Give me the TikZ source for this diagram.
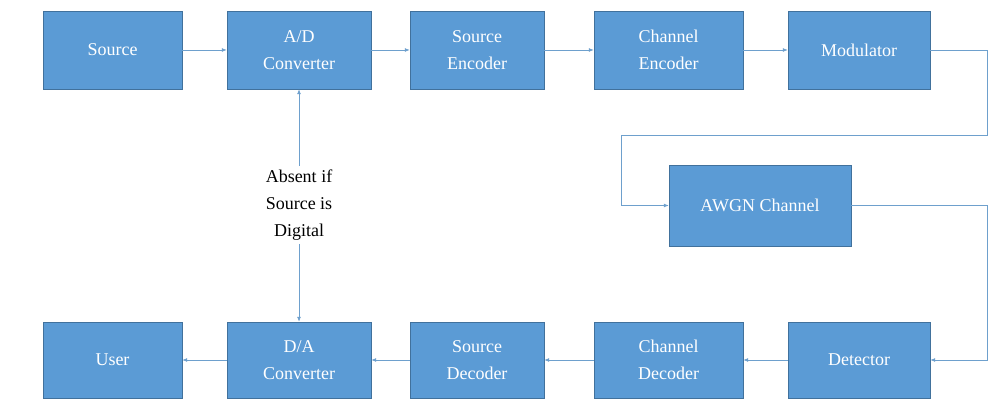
\documentclass[tikz,border=0pt]{standalone}
\usepackage{fontspec}
\setmainfont{Liberation Serif}
\usetikzlibrary{arrows.meta}
\definecolor{boxblue}{RGB}{91,155,213}
\definecolor{boxedge}{RGB}{65,113,156}
\definecolor{wireblue}{RGB}{110,160,205}
\begin{document}
\begin{tikzpicture}[x=1pt, y=-1pt]
\tikzset{ block/.style={draw=boxedge, fill=boxblue, text=white, align=center,
    inner sep=0pt, font={\fontsize{18pt}{27pt}\selectfont}},
  wire/.style={draw=wireblue, thick, -{Latex[length=5pt,width=4pt]}}
}
\useasboundingbox (0,0) rectangle (1006,409);

% Transmitter
\node[block, minimum width=139pt, minimum height=78pt] (src) at (112.5,50) {Source};
\node[block, minimum width=144pt, minimum height=78pt] (adc) at (299,50) {A/D\\Converter};
\node[block, minimum width=134pt, minimum height=78pt] (senc) at (477,50) {Source\\Encoder};
\node[block, minimum width=149pt, minimum height=78pt] (cenc) at (668.5,50) {Channel\\Encoder};
\node[block, minimum width=142pt, minimum height=78pt] (mod) at (859,50) {Modulator};

% Channel
\node[block, minimum width=182pt, minimum height=81pt] (awgn) at (760,205.5) {AWGN Channel};

% Receiver
\node[block, minimum width=139pt, minimum height=76pt] (user) at (112.5,360) {User};
\node[block, minimum width=144pt, minimum height=76pt] (dac) at (299,360) {D/A\\Converter};
\node[block, minimum width=134pt, minimum height=76pt] (sdec) at (477,360) {Source\\Decoder};
\node[block, minimum width=149pt, minimum height=76pt] (cdec) at (668.5,360) {Channel\\Decoder};
\node[block, minimum width=142pt, minimum height=76pt] (det) at (859,360) {Detector};

\node[align=center, font={\fontsize{18pt}{27pt}\selectfont}] (note) at (299,205) {Absent if\\Source is\\Digital};

\coordinate (r1) at (987,50);
\coordinate (r2) at (987,135);
\coordinate (r3) at (621,135);
\coordinate (r4) at (987,205.5);

\draw[wire] (src) -- (adc);
\draw[wire] (adc) -- (senc);
\draw[wire] (senc) -- (cenc);
\draw[wire] (cenc) -- (mod);
\draw[wire] (mod) -- (r1) -- (r2) -- (r3) |- (awgn);
\draw[wire] (awgn) -- (r4) |- (det);
\draw[wire] (det) -- (cdec);
\draw[wire] (cdec) -- (sdec);
\draw[wire] (sdec) -- (dac);
\draw[wire] (dac) -- (user);
\draw[wire] (note) -- (adc);
\draw[wire] (note) -- (dac);
\end{tikzpicture}
\end{document}
